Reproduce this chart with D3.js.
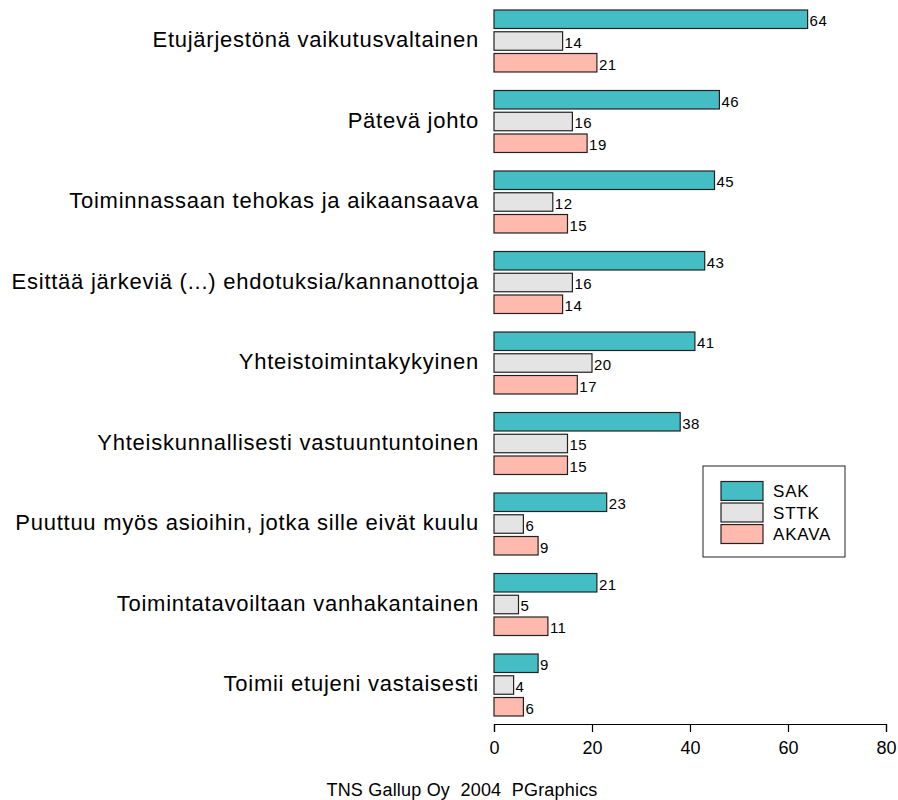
<!DOCTYPE html>
<html>
<head>
<meta charset="utf-8">
<script src="https://cdn.jsdelivr.net/npm/d3@7"></script>
<style>
  body { margin: 0; background: #fff; }
  svg { display: block; font-family: Arial, "Liberation Sans", sans-serif; }
</style>
</head>
<body>
<div id="chart"></div>
<script>
const categories = [
  'Etujärjestönä vaikutusvaltainen',
  'Pätevä johto',
  'Toiminnassaan tehokas ja aikaansaava',
  'Esittää järkeviä (...) ehdotuksia/kannanottoja',
  'Yhteistoimintakykyinen',
  'Yhteiskunnallisesti vastuuntuntoinen',
  'Puuttuu myös asioihin, jotka sille eivät kuulu',
  'Toimintatavoiltaan vanhakantainen',
  'Toimii etujeni vastaisesti'
];
const seriesNames = ['SAK', 'STTK', 'AKAVA'];
const sak = [64, 46, 45, 43, 41, 38, 23, 21, 9];
const sttk = [14, 16, 12, 16, 20, 15, 6, 5, 4];
const akava = [21, 19, 15, 14, 17, 15, 9, 11, 6];
const xTicks = [0, 20, 40, 60, 80];
const footer = 'TNS Gallup Oy  2004  PGraphics';

const colors = { SAK: '#45bdc5', STTK: '#e4e4e4', AKAVA: '#ffb9ad' };
const values = { SAK: sak, STTK: sttk, AKAVA: akava };

const width = 898, height = 800;
const svg = d3.select('#chart').append('svg')
  .attr('width', width)
  .attr('height', height);

const x = d3.scaleLinear().domain([0, 80]).range([494, 886]);

const y0 = d3.scaleBand()
  .domain(categories)
  .range([10, 716])
  .paddingInner(0.23);

const y1 = d3.scaleBand()
  .domain(seriesNames)
  .range([0, y0.bandwidth()])
  .paddingInner(0.15);

const rows = categories.map((c, i) => ({
  cat: c,
  bars: seriesNames.map(s => ({ series: s, value: values[s][i] }))
}));

const group = svg.append('g')
  .selectAll('g')
  .data(rows)
  .enter()
  .append('g')
  .attr('transform', d => `translate(0,${y0(d.cat)})`);

group.append('text')
  .attr('x', 479)
  .attr('y', y0.bandwidth() / 2 + 6.5)
  .attr('text-anchor', 'end')
  .attr('font-size', 22)
  .attr('letter-spacing', 0.75)
  .attr('fill', '#000')
  .text(d => d.cat);

const bar = group.selectAll('g.bar')
  .data(d => d.bars)
  .enter()
  .append('g')
  .attr('class', 'bar');

bar.append('rect')
  .attr('x', x(0))
  .attr('y', d => y1(d.series))
  .attr('width', d => x(d.value) - x(0))
  .attr('height', y1.bandwidth())
  .attr('fill', d => colors[d.series])
  .attr('stroke', '#222')
  .attr('stroke-width', 1.2);

bar.append('text')
  .attr('x', d => x(d.value) + 2)
  .attr('y', d => y1(d.series) + y1.bandwidth() / 2 + 7)
  .attr('font-size', 15)
  .attr('letter-spacing', 0.5)
  .attr('fill', '#000')
  .text(d => d.value);

// x axis
const axis = svg.append('g')
  .attr('transform', 'translate(0,724)')
  .call(d3.axisBottom(x).tickValues(xTicks).tickSize(8).tickPadding(9).tickFormat(d3.format('d')));
axis.select('.domain').attr('stroke', '#000').attr('stroke-width', 1.2);
axis.selectAll('.tick line').attr('stroke', '#000').attr('stroke-width', 1.2);
axis.selectAll('.tick text')
  .attr('font-size', 18)
  .attr('font-family', 'Arial, "Liberation Sans", sans-serif')
  .attr('fill', '#000');

// legend
const legend = svg.append('g');
legend.append('rect')
  .attr('x', 703).attr('y', 466)
  .attr('width', 142).attr('height', 91)
  .attr('fill', '#fff')
  .attr('stroke', '#222')
  .attr('stroke-width', 1);

const ly = d3.scaleBand().domain(seriesNames).range([481.5, 543.5]).paddingInner(0.12);
const item = legend.selectAll('g.item')
  .data(seriesNames)
  .enter()
  .append('g')
  .attr('class', 'item');
item.append('rect')
  .attr('x', 721)
  .attr('y', d => ly(d))
  .attr('width', 42)
  .attr('height', ly.bandwidth())
  .attr('fill', d => colors[d])
  .attr('stroke', '#222')
  .attr('stroke-width', 1.2);
item.append('text')
  .attr('x', 773)
  .attr('y', d => ly(d) + ly.bandwidth() / 2 + 6)
  .attr('font-size', 17)
  .attr('letter-spacing', 0.8)
  .attr('fill', '#000')
  .text(d => d);

svg.append('text')
  .attr('x', 462)
  .attr('y', 796)
  .attr('text-anchor', 'middle')
  .attr('font-size', 18)
  .attr('letter-spacing', 0.2)
  .attr('fill', '#000')
  .style('white-space', 'pre')
  .text(footer);
</script>
</body>
</html>
